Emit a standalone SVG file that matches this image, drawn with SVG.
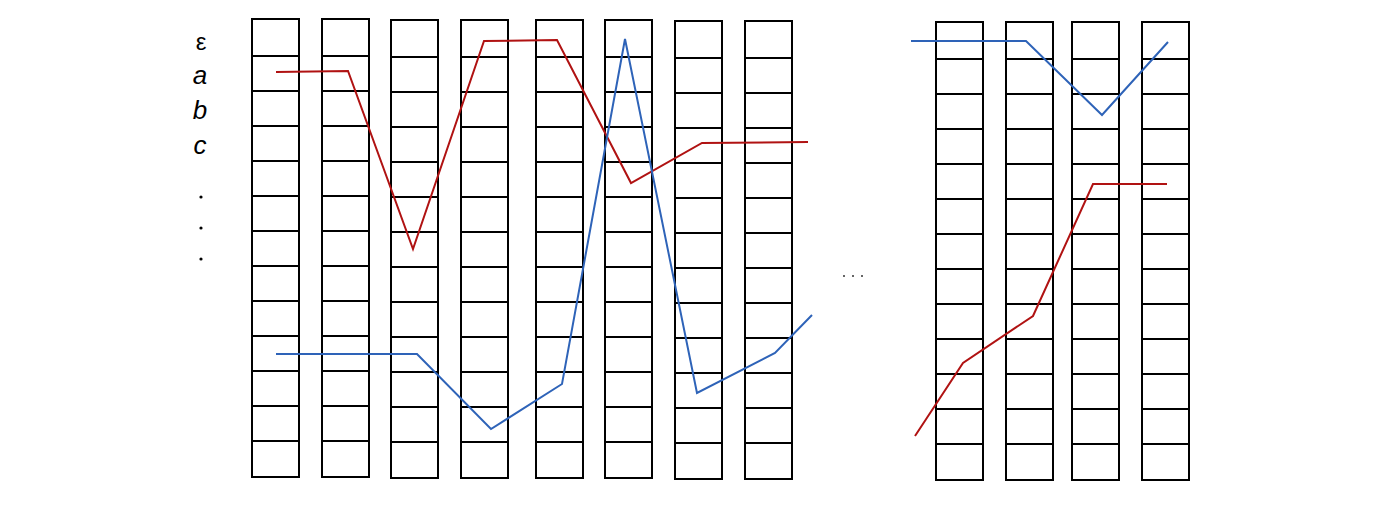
<svg xmlns="http://www.w3.org/2000/svg" width="1400" height="513" viewBox="0 0 1400 513">
<defs>
<style>
.lbl{font-family:"Liberation Sans",Arial,sans-serif;font-size:26px;fill:#000;text-anchor:middle}
.eps{font-size:24px}
.it{font-style:italic}
.red{fill:none;stroke:#b01212;stroke-width:2;stroke-linejoin:miter}
.blue{fill:none;stroke:#2e63b8;stroke-width:2;stroke-linejoin:miter}
</style>
<g id="cells" fill="#fff" stroke="#000" stroke-width="2">
<rect x="0" y="0" width="47" height="458"/>
<line x1="0" y1="37" x2="47" y2="37"/>
<line x1="0" y1="72" x2="47" y2="72"/>
<line x1="0" y1="107" x2="47" y2="107"/>
<line x1="0" y1="142" x2="47" y2="142"/>
<line x1="0" y1="177" x2="47" y2="177"/>
<line x1="0" y1="212" x2="47" y2="212"/>
<line x1="0" y1="247" x2="47" y2="247"/>
<line x1="0" y1="282" x2="47" y2="282"/>
<line x1="0" y1="317" x2="47" y2="317"/>
<line x1="0" y1="352" x2="47" y2="352"/>
<line x1="0" y1="387" x2="47" y2="387"/>
<line x1="0" y1="422" x2="47" y2="422"/>
</g>
</defs>
<rect width="1400" height="513" fill="#fff"/>
<g id="labels">
<text class="lbl eps" x="201" y="50">ε</text>
<text class="lbl it" x="200" y="84">a</text>
<text class="lbl it" x="200" y="119">b</text>
<text class="lbl it" x="200" y="154">c</text>
<circle cx="201" cy="197" r="1.6" fill="#000"/>
<circle cx="201" cy="228" r="1.6" fill="#000"/>
<circle cx="201" cy="259" r="1.6" fill="#000"/>
</g>
<g id="columns-left">
<use id="col1" href="#cells" x="252" y="19"/>
<use id="col2" href="#cells" x="322" y="19"/>
<use id="col3" href="#cells" x="391" y="20"/>
<use id="col4" href="#cells" x="461" y="20"/>
<use id="col5" href="#cells" x="536" y="20"/>
<use id="col6" href="#cells" x="605" y="20"/>
<use id="col7" href="#cells" x="675" y="21"/>
<use id="col8" href="#cells" x="745" y="21"/>
</g>
<g id="ellipsis" fill="#333">
<circle cx="844" cy="276" r="1"/>
<circle cx="853" cy="276" r="1"/>
<circle cx="862" cy="276" r="1"/>
</g>
<g id="columns-right">
<use id="col9" href="#cells" x="936" y="22"/>
<use id="col10" href="#cells" x="1006" y="22"/>
<use id="col11" href="#cells" x="1072" y="22"/>
<use id="col12" href="#cells" x="1142" y="22"/>
</g>
<g id="connectors">
<polyline class="red" points="276,72 348,71 413,249 484,41 557,40 631,183 702,143 808,142"/>
<polyline class="blue" points="276,354 417,354 491,429 562,384 625,39 697,393 775,353 812,315"/>
<polyline class="blue" points="911,41 1026,41 1102,115 1168,42"/>
<polyline class="red" points="915,436 963,363 1033,316 1093,184 1167,184"/>
</g>
</svg>
